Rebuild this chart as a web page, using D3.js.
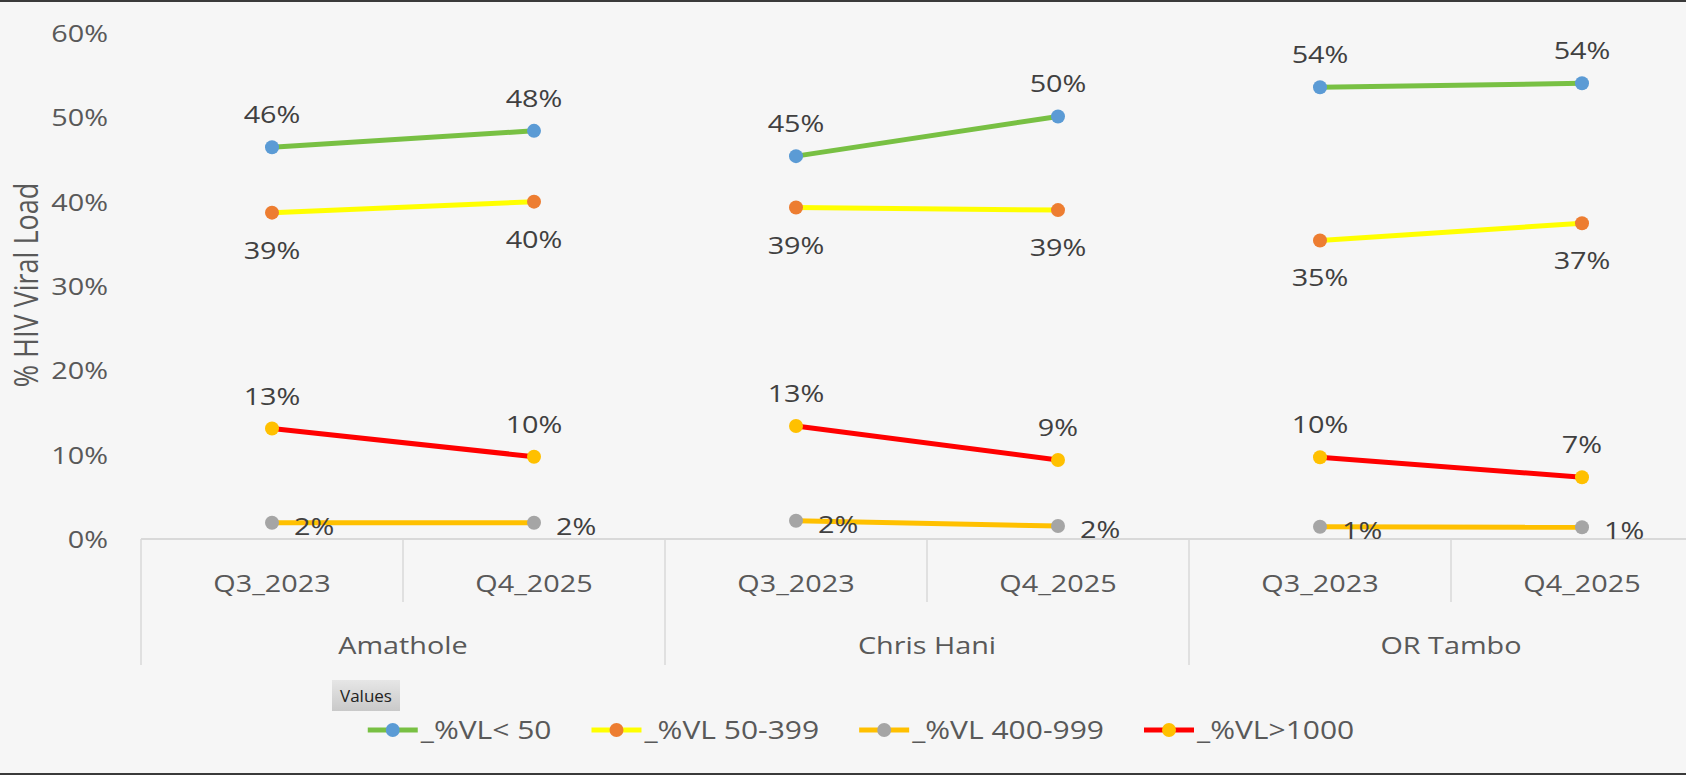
<!DOCTYPE html>
<html>
<head>
<meta charset="utf-8">
<script src="https://cdn.jsdelivr.net/npm/d3@7"></script>
<style>
  body { margin: 0; background: #f6f6f6; }
  text { font-family: "Open Sans", "Noto Sans", sans-serif; }
</style>
</head>
<body>
<div id="chart"></div>
<script>
// values (fractions, shown as %)
const districts = ["Amathole", "Chris Hani", "OR Tambo"]
const periods = ["Q3_2023", "Q4_2025"]
const seriesNames = ["_%VL< 50", "_%VL 50-399", "_%VL 400-999", "_%VL>1000"]

// one value per district/period, in order Amathole Q3, Q4, Chris Hani Q3, Q4, OR Tambo Q3, Q4
const vlUnder50 = [0.4645, 0.484, 0.454, 0.501, 0.5356, 0.5404]
const vl50to399 = [0.387, 0.400, 0.393, 0.390, 0.354, 0.3744]
const vl400to999 = [0.0193, 0.0193, 0.0217, 0.0154, 0.0146, 0.0139]
const vlOver1000 = [0.131, 0.0976, 0.134, 0.0937, 0.0969, 0.0732]

const yTicks = [0, 0.1, 0.2, 0.3, 0.4, 0.5, 0.6]

// look of each series, kept apart from the values
const seriesStyle = [
  { values: vlUnder50, line: "#78c043", marker: "#5b9bd5", label: "above" },
  { values: vl50to399, line: "#ffff00", marker: "#ed7d31", label: "below" },
  { values: vl400to999, line: "#ffc000", marker: "#a5a5a5", label: "right" },
  { values: vlOver1000, line: "#ff0000", marker: "#ffc000", label: "above" }
]

const W = 1686, H = 775
const SX = 1.2   // the picture is stretched sideways, so text is too
const stretch = (x, y) => `translate(${x},${y}) scale(${SX},1)`

let svg = d3.select("#chart").append("svg")
  .attr("width", W)
  .attr("height", H)

svg.append("rect")
  .attr("width", W).attr("height", H)
  .attr("fill", "#f6f6f6")

// frame lines top and bottom
svg.append("line").attr("x1", 0).attr("x2", W).attr("y1", 1).attr("y2", 1)
  .attr("stroke", "#3a3a3a").attr("stroke-width", 2)
svg.append("line").attr("x1", 0).attr("x2", W).attr("y1", H - 1).attr("y2", H - 1)
  .attr("stroke", "#3a3a3a").attr("stroke-width", 2)

// category keys: district|period
let keys = []
districts.forEach(d => periods.forEach(p => keys.push(d + "|" + p)))

let x = d3.scaleBand()
  .domain(keys)
  .range([141, 1713])
  .padding(0)

let y = d3.scaleLinear()
  .domain([0, 0.6])
  .range([539, 33])

const cx = k => x(k) + x.bandwidth() / 2

// y axis
let yAxis = svg.append("g")
  .attr("transform", "translate(108,0)")
  .call(d3.axisLeft(y).tickValues(yTicks).tickFormat(d3.format(".0%")).tickSize(0))
yAxis.select(".domain").remove()
yAxis.selectAll("text")
  .attr("x", 0)
  .attr("dy", "0.36em")
  .attr("transform", `scale(${SX},1)`)
  .style("font-size", "24px")
  .style("fill", "#595959")

// y axis title
svg.append("text")
  .attr("transform", "translate(27,285) rotate(-90) scale(1," + SX + ")")
  .attr("text-anchor", "middle")
  .attr("dy", "0.35em")
  .style("font-size", "27px")
  .style("fill", "#595959")
  .text("% HIV Viral Load")

// category axis: base line and separators
let axisG = svg.append("g")
axisG.append("line")
  .attr("x1", x.range()[0]).attr("x2", x.range()[1])
  .attr("y1", y(0)).attr("y2", y(0))
  .attr("stroke", "#d9d9d9").attr("stroke-width", 2)

keys.forEach((k, i) => {
  let inner = i % 2 == 1
  axisG.append("line")
    .attr("x1", x(k)).attr("x2", x(k))
    .attr("y1", y(0)).attr("y2", inner ? 602 : 665)
    .attr("stroke", "#d9d9d9").attr("stroke-width", 1.5)
})

// period labels
axisG.selectAll(".period")
  .data(keys)
  .enter()
  .append("text")
  .attr("class", "period")
  .attr("transform", k => stretch(cx(k), 591.5))
  .attr("text-anchor", "middle")
  .style("font-size", "24px")
  .style("fill", "#595959")
  .text(k => k.split("|")[1])

// district labels, centred under their two periods
axisG.selectAll(".district")
  .data(districts)
  .enter()
  .append("text")
  .attr("class", "district")
  .attr("transform", d => stretch((x(d + "|" + periods[0]) + x(d + "|" + periods[1]) + x.bandwidth()) / 2, 654))
  .attr("text-anchor", "middle")
  .style("font-size", "24px")
  .style("fill", "#595959")
  .text(d => d)

// lines, one short segment per district for every series
let line = d3.line()
  .x(d => cx(d.key))
  .y(d => y(d.v))

seriesStyle.forEach(s => {
  let pts = keys.map((k, i) => ({ key: k, v: s.values[i], district: k.split("|")[0] }))
  let groups = d3.groups(pts, d => d.district)

  svg.append("g").selectAll("path")
    .data(groups)
    .enter()
    .append("path")
    .attr("d", g => line(g[1]))
    .attr("fill", "none")
    .attr("stroke", s.line)
    .attr("stroke-width", 5)

  svg.append("g").selectAll("circle")
    .data(pts)
    .enter()
    .append("circle")
    .attr("cx", d => cx(d.key))
    .attr("cy", d => y(d.v))
    .attr("r", 7)
    .style("fill", s.marker)

  svg.append("g").selectAll("text")
    .data(pts)
    .enter()
    .append("text")
    .attr("transform", d => {
      if (s.label == "above") return stretch(cx(d.key), y(d.v) - 24)
      if (s.label == "below") return stretch(cx(d.key), y(d.v) + 46)
      return stretch(cx(d.key) + 22, y(d.v) + 12)
    })
    .attr("text-anchor", s.label == "right" ? "start" : "middle")
    .style("font-size", "24px")
    .style("fill", "#404040")
    .text(d => d3.format(".0%")(d.v))
})

// "Values" field button
let defs = svg.append("defs")
let grad = defs.append("linearGradient").attr("id", "btn").attr("x1", 0).attr("x2", 0).attr("y1", 0).attr("y2", 1)
grad.append("stop").attr("offset", "0%").attr("stop-color", "#e6e6e6")
grad.append("stop").attr("offset", "100%").attr("stop-color", "#c9c9c9")

svg.append("rect")
  .attr("x", 332).attr("y", 680)
  .attr("width", 68).attr("height", 31)
  .attr("fill", "url(#btn)")
svg.append("text")
  .attr("x", 366).attr("y", 702)
  .attr("text-anchor", "middle")
  .style("font-size", "17px")
  .style("fill", "#222")
  .text("Values")

// legend
let legend = svg.append("g")
let items = legend.selectAll("g")
  .data(seriesNames)
  .enter()
  .append("g")

items.append("line")
  .attr("x1", 0).attr("x2", 50)
  .attr("y1", 0).attr("y2", 0)
  .attr("stroke", (d, i) => seriesStyle[i].line)
  .attr("stroke-width", 5)
items.append("circle")
  .attr("cx", 25).attr("cy", 0).attr("r", 7)
  .style("fill", (d, i) => seriesStyle[i].marker)
items.append("text")
  .attr("transform", stretch(53, 9))
  .style("font-size", "25px")
  .style("fill", "#595959")
  .text(d => d)

// lay the items out side by side, then centre the row
let pos = 0
items.each(function () {
  let w = 53 + d3.select(this).select("text").node().getComputedTextLength() * SX
  d3.select(this).attr("transform", `translate(${pos},0)`)
  pos += w + 40
})
let total = pos - 40
legend.attr("transform", `translate(${861 - total / 2},730)`)
</script>
</body>
</html>
